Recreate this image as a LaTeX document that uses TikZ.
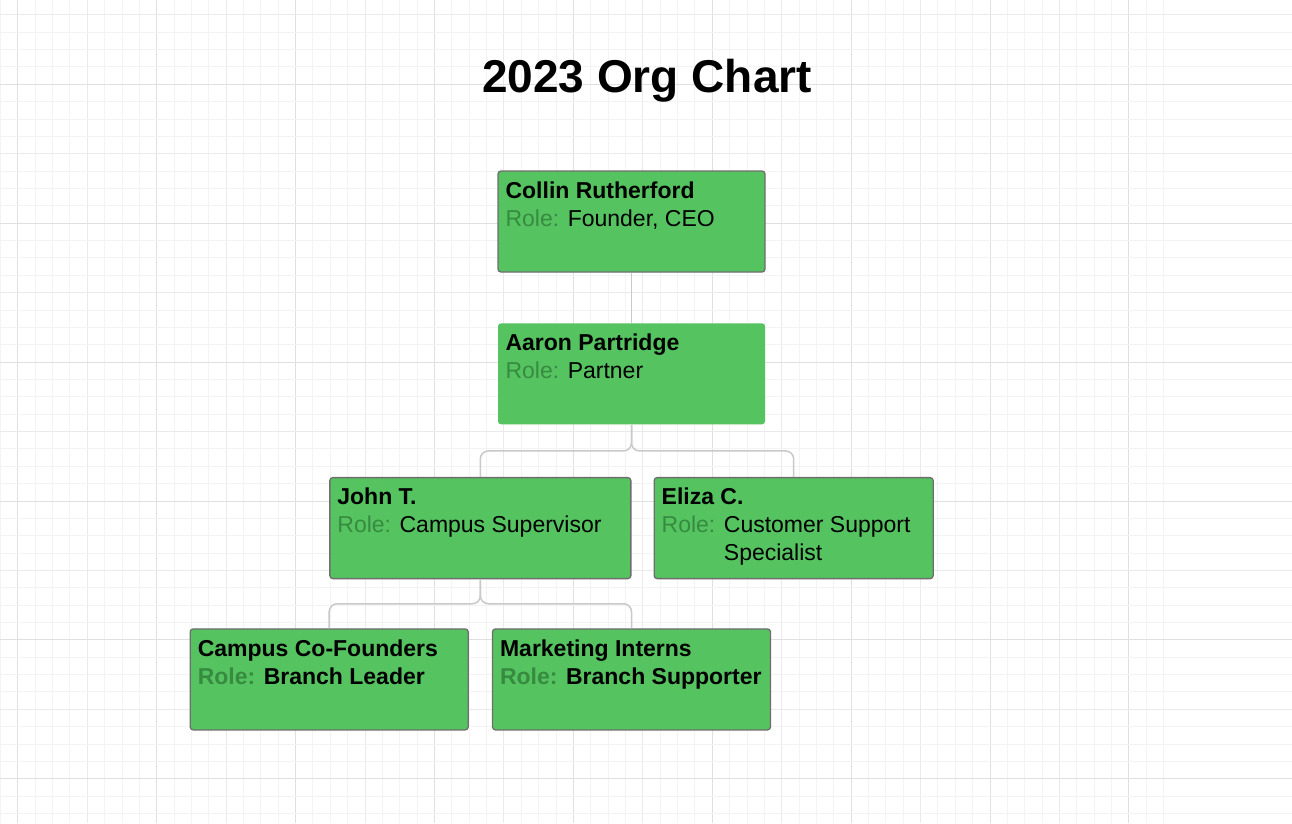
\documentclass[tikz,border=0pt]{standalone}
\usepackage{fontspec}
\setmainfont{Liberation Sans}
\usetikzlibrary{positioning,calc}
\definecolor{cardgreen}{HTML}{55C35F}
\definecolor{cardline}{HTML}{6E6E6E}
\definecolor{rolegreen}{HTML}{378B41}
\definecolor{wire}{HTML}{C9C9C9}
\definecolor{gridlo}{HTML}{F3F3F3}
\definecolor{gridmd}{HTML}{EAEAEA}
\definecolor{gridhi}{HTML}{E0E0E0}

\begin{document}
\begin{tikzpicture}[x=1pt,y=-1pt,
    grid0/.style={draw=gridlo,line width=0.9pt},
    grid1/.style={draw=gridmd,line width=0.9pt},
    grid2/.style={draw=gridhi,line width=0.9pt},
    card/.style={fill=cardgreen,draw=cardline,line width=1.3pt,
                 rounded corners=3pt,minimum height=101pt,inner sep=0pt},
    cardtext/.style={anchor=north west,align=left,inner xsep=8pt,
                     inner ysep=11pt,font=\fontsize{23}{28}\selectfont},
    link/.style={draw=wire,line width=1.5pt,rounded corners=8pt}]
  \useasboundingbox[fill=white] (0,0) rectangle (1292,823);
  % background grid
  \foreach \i in {7,...,74}{
    \pgfmathtruncatemacro\lvl{mod(\i,8)==0 ? 2 : (mod(\i,4)==0 ? 1 : 0)}
    \draw[grid\lvl] (-121.06+17.36*\i,0) -- ++(0,823);
  }
  \foreach \i in {12,...,59}{
    \pgfmathtruncatemacro\lvl{mod(\i,8)==0 ? 2 : (mod(\i,4)==0 ? 1 : 0)}
    \draw[grid\lvl] (0,-193.46+17.36*\i) -- ++(1292,0);
  }

  \node[font=\bfseries\fontsize{46}{52}\selectfont,anchor=base] (title)
    at (647,92.7) {2023 Org Chart};

  % cards
  \node[card,minimum width=267pt] (collin) at (631.5,221.5) {};
  \node[card,minimum width=267pt,draw=none,below=50pt of collin] (aaron) {};
  \node[card,minimum width=301pt,below=52pt of aaron.south,anchor=north east] (john) {};
  \node[card,minimum width=279pt,right=22pt of john] (eliza) {};
  \node[card,minimum width=278pt,below=49pt of john.south west] (campus) {};
  \node[card,minimum width=278pt,below=49pt of john.south east] (interns) {};

  % reporting lines
  \coordinate (fork1) at ($(aaron.south)!.5!(john.north)$);
  \coordinate (fork2) at ($(john.south)!.5!(campus.north)$);
  \draw[link] (collin.south) -- (aaron.north);
  \draw[link] (aaron.south) |- (john.north |- fork1) -- (john.north);
  \draw[link] (aaron.south) |- (eliza.north |- fork1) -- (eliza.north);
  \draw[link] (john.south) |- (campus.north |- fork2) -- (campus.north);
  \draw[link] (john.south) |- (interns.north |- fork2) -- (interns.north);

  % card texts
  \node[cardtext] (collin-txt) at (collin.north west)
    {\textbf{Collin Rutherford}\\{\color{rolegreen}Role:} Founder, CEO};
  \node[cardtext] (aaron-txt) at (aaron.north west)
    {\textbf{Aaron Partridge}\\{\color{rolegreen}Role:} Partner};
  \node[cardtext] (john-txt) at (john.north west)
    {\textbf{John T.}\\{\color{rolegreen}Role:} Campus Supervisor};
  \node[cardtext] (eliza-txt) at (eliza.north west)
    {\textbf{Eliza C.}\\{\color{rolegreen}Role:} \begin{tabular}[t]{@{}l@{}}Customer Support\\Specialist\end{tabular}};
  \node[cardtext,font=\fontsize{23}{28}\selectfont\bfseries] (campus-txt) at (campus.north west)
    {Campus Co-Founders\\{\color{rolegreen}Role:} Branch Leader};
  \node[cardtext,font=\fontsize{23}{28}\selectfont\bfseries] (interns-txt) at (interns.north west)
    {Marketing Interns\\{\color{rolegreen}Role:} Branch Supporter};
\end{tikzpicture}
\end{document}
